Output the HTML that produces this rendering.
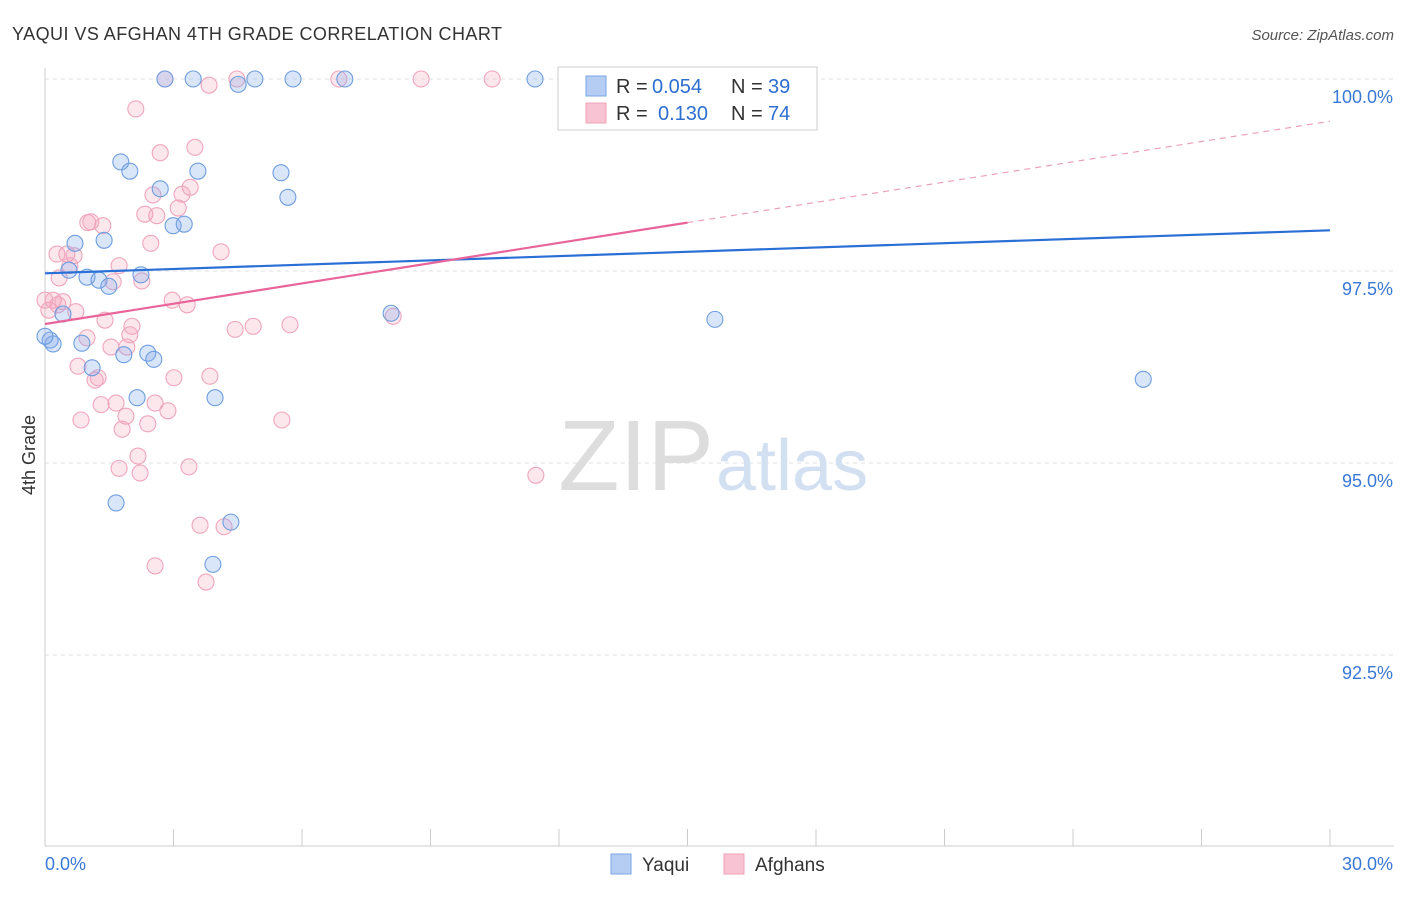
<!DOCTYPE html>
<html><head><meta charset="utf-8"><style>
body{margin:0;background:#fff;font-family:"Liberation Sans",sans-serif;}
svg text{font-family:"Liberation Sans",sans-serif;}
</style></head><body>
<svg id="chart" width="1406" height="892">
<text x="12" y="40" font-size="18" fill="#333" textLength="490">YAQUI VS AFGHAN 4TH GRADE CORRELATION CHART</text>
<text x="1394" y="40" font-size="15" fill="#555" text-anchor="end" font-style="italic">Source: ZipAtlas.com</text>
<g id="grid"></g>
<text x="714" y="490" font-size="100" fill="#ddd" text-anchor="end" font-family="Liberation Serif">ZIP</text>
<text x="716" y="490" font-size="72" fill="#d3e0f2">atlas</text>
<g id="pts"></g>
<g id="lines"></g>
<text x="35" y="455" font-size="18" fill="#333" transform="rotate(-90 35 455)" text-anchor="middle">4th Grade</text>
<g>
<rect x="558" y="67" width="259" height="63" fill="#fff" stroke="#ccc"/>
<rect x="586" y="76" width="20" height="20" fill="#b5cdf2" stroke="#7aa5e5"/>
<text x="616" y="93" font-size="20" fill="#333">R =</text>
<text x="652" y="93" font-size="20" fill="#2d6fd0">0.054</text>
<text x="731" y="93" font-size="20" fill="#333">N =</text>
<text x="768" y="93" font-size="20" fill="#2d6fd0">39</text>
<rect x="586" y="103" width="20" height="20" fill="#f8c4d3" stroke="#f0a0b8"/>
<text x="616" y="120" font-size="20" fill="#333">R =</text>
<text x="658" y="120" font-size="20" fill="#2d6fd0">0.130</text>
<text x="731" y="120" font-size="20" fill="#333">N =</text>
<text x="768" y="120" font-size="20" fill="#2d6fd0">74</text>
</g>
<g>
<rect x="611" y="854" width="20" height="20" fill="#b5cdf2" stroke="#7aa5e5"/>
<text x="642" y="871" font-size="19" fill="#333">Yaqui</text>
<rect x="724" y="854" width="20" height="20" fill="#f8c4d3" stroke="#f0a0b8"/>
<text x="755" y="871" font-size="19" fill="#333">Afghans</text>
</g>
</svg>
<script>
const yTicks=[100,97.5,95,92.5];
const yTickLabels=["100.0%","97.5%","95.0%","92.5%"];
const xTickLabels=["0.0%","30.0%"];
const yaquiX=[2.80,3.46,4.51,4.90,5.79,7.00,11.44,1.77,1.98,3.57,2.69,5.51,5.67,2.99,3.25,0.70,1.38,0.56,0.98,1.26,2.24,1.49,0.42,0.19,0.86,1.84,2.40,2.54,1.10,2.15,3.97,8.08,15.64,25.64,1.66,4.34,3.92,0.12,0.0];
const yaquiY=[100,100,99.93,100,100,100,100,98.92,98.80,98.80,98.57,98.78,98.46,98.09,98.11,97.86,97.90,97.51,97.42,97.38,97.45,97.30,96.94,96.55,96.56,96.41,96.43,96.35,96.24,95.85,95.85,96.95,96.87,96.09,94.48,94.23,93.68,96.60,96.65];
const afgX=[2.80,4.48,3.83,6.86,8.78,10.44,2.12,2.69,3.50,3.39,2.52,3.20,3.11,2.33,2.61,1.00,1.07,1.35,2.47,4.11,0.28,0.51,0.68,0.58,1.73,0.33,1.59,2.26,0.19,0.42,0.30,0.09,2.97,3.32,0.72,1.40,2.03,4.44,4.86,5.72,1.98,0.98,1.54,1.91,8.13,0.77,1.17,1.24,3.01,3.85,1.31,1.66,2.57,2.87,0.84,1.89,5.53,2.40,1.80,2.17,1.73,2.22,3.36,11.46,3.62,4.18,2.57,3.76,0.0];
const afgY=[100,100,99.92,100,100,100,99.61,99.04,99.11,98.59,98.49,98.50,98.32,98.24,98.22,98.13,98.14,98.09,97.86,97.75,97.72,97.72,97.70,97.57,97.57,97.41,97.36,97.37,97.12,97.10,97.06,96.99,97.12,97.06,96.97,96.86,96.78,96.74,96.78,96.80,96.67,96.63,96.51,96.51,96.91,96.26,96.08,96.11,96.11,96.13,95.76,95.78,95.78,95.68,95.56,95.61,95.56,95.51,95.44,95.09,94.93,94.87,94.95,94.84,94.19,94.17,93.66,93.45,97.12];
const yaquiTrend=[97.47,98.03];
const afgTrend=[96.81,99.45];
const afgSolidEnd=15.0;
const NS="http://www.w3.org/2000/svg";
const X=v=>45+v*(1285/30);
const Y=v=>79+(100-v)*76.8;
function mk(t,a,p){const e=document.createElementNS(NS,t);for(const k in a)e.setAttribute(k,a[k]);p.appendChild(e);return e;}
const g=document.getElementById('grid');
yTicks.forEach((t,i)=>{
 const l=mk('line',{x1:45,x2:1394,y1:Y(t),y2:Y(t),stroke:'#e2e2e2','stroke-dasharray':'4,4'},g);
 
 
 const tx=mk('text',{x:1393,y:Y(t)+24,'font-size':18,fill:'#3a78d6','text-anchor':'end'},g);
 tx.textContent=yTickLabels[i];
 
 
});
mk('line',{x1:45,x2:45,y1:68,y2:846,stroke:'#ccc'},g);
mk('line',{x1:45,x2:1394,y1:846,y2:846,stroke:'#ccc'},g);
for(let i=0;i<=10;i++){const x=X(i*3);const t=mk('line',{x1:x,x2:x,y1:829,y2:846,stroke:'#ccc'},g);
 
 }
[[0,'start'],[30,'end']].forEach((d,i)=>{const tx=mk('text',{x:i?1393:45,y:870,'font-size':18,fill:'#3a78d6','text-anchor':d[1]},g);
 tx.textContent=xTickLabels[i];
 
 });
const p=document.getElementById('pts');
afgX.forEach((x,i)=>{const c=mk('circle',{cx:X(x),cy:Y(afgY[i]),r:8,fill:'rgba(244,160,185,0.25)',stroke:'#f0a5bd','stroke-width':1.1},p);
 
 });
yaquiX.forEach((x,i)=>{const c=mk('circle',{cx:X(x),cy:Y(yaquiY[i]),r:8,fill:'rgba(130,170,235,0.3)',stroke:'#6f9ee0','stroke-width':1.1},p);
 
 });
const L=document.getElementById('lines');
const at=(tr,x)=>tr[0]+(tr[1]-tr[0])*x/30;
const b=mk('line',{x1:X(0),y1:Y(yaquiTrend[0]),x2:X(30),y2:Y(yaquiTrend[1]),stroke:'#2a6fd6','stroke-width':2.2},L);


const a1=mk('line',{x1:X(0),y1:Y(afgTrend[0]),x2:X(afgSolidEnd),y2:Y(at(afgTrend,afgSolidEnd)),stroke:'#e8649a','stroke-width':2.2},L);


const a2=mk('line',{x1:X(afgSolidEnd),y1:Y(at(afgTrend,afgSolidEnd)),x2:X(30),y2:Y(afgTrend[1]),stroke:'#eca0bb','stroke-width':1.2,'stroke-dasharray':'6,5'},L);


</script>
</body></html>
